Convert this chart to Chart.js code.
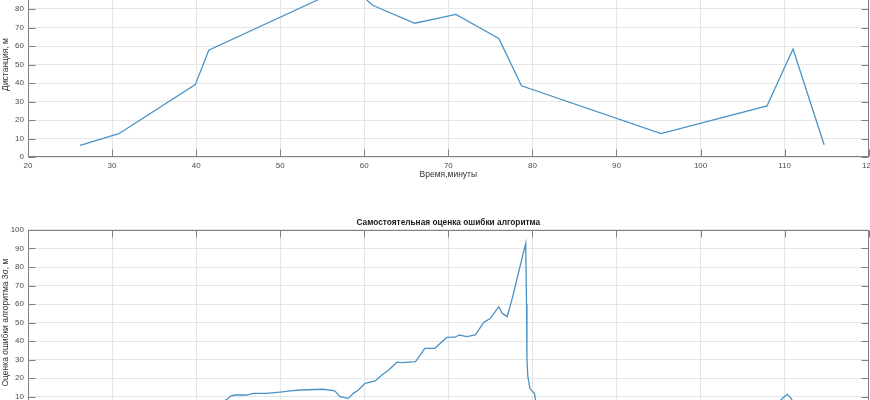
<!DOCTYPE html>
<html><head><meta charset="utf-8">
<script src="https://cdn.jsdelivr.net/npm/chart.js@4"></script>
<style>
html,body{margin:0;padding:0;width:870px;height:400px;overflow:hidden;background:#fff;}
#w1{position:absolute;left:0;top:-40px;width:870px;height:220px;}
#w2{position:absolute;left:0;top:200px;width:870px;height:240px;}
canvas{display:block;}
</style></head><body>
<div id="w1"><canvas id="c1" width="870" height="220"></canvas></div>
<div id="w2"><canvas id="c2" width="870" height="240"></canvas></div>
<script>
// ---- data ----
const xTickValues = [20, 30, 40, 50, 60, 70, 80, 90, 100, 110, 120];
const yTickValues = [0, 10, 20, 30, 40, 50, 60, 70, 80, 90, 100];

const distTimes  = [26.2, 30.8, 39.9, 41.5, 58.3, 61.0, 66.0, 70.9, 76.0, 78.7, 95.3, 107.9, 111.0, 114.7];
const distValues = [6.3, 12.6, 39.1, 57.7, 93.0, 82.0, 72.3, 77.1, 64.1, 38.5, 12.6, 27.6, 58.4, 6.6];

const errTimes  = [26.2, 30.0, 35.0, 40.0, 43.0, 43.7, 44.1, 44.6, 46.0, 46.8, 48.4, 50.0, 51.2, 52.4, 55.1, 56.5, 57.1, 58.1, 58.7, 59.3, 60.1, 61.3, 62.1, 62.9, 63.9, 64.5, 66.1, 67.2, 68.4, 69.8, 70.8, 71.3, 72.2, 73.2, 74.2, 75.0, 76.0, 76.4, 77.0, 77.6, 79.2, 79.3, 79.35, 79.45, 79.7, 80.0, 80.25, 80.4, 81.0, 85.0, 90.0, 95.0, 100.0, 105.0, 109.0, 109.6, 110.3, 110.7, 111.2, 114.7];
const errValues = [2.0, 3.0, 4.0, 5.0, 7.0, 8.6, 10.3, 10.9, 10.9, 11.8, 11.8, 12.5, 13.1, 13.6, 14.0, 13.1, 10.0, 9.1, 11.8, 13.6, 17.2, 18.5, 21.7, 24.4, 28.6, 28.4, 28.9, 36.1, 36.1, 42.0, 42.1, 43.3, 42.4, 43.3, 50.0, 52.3, 58.6, 55.0, 53.2, 63.1, 92.8, 60.0, 30.0, 21.0, 14.5, 12.8, 11.8, 7.0, 5.0, 4.5, 4.0, 4.0, 4.5, 5.0, 6.0, 8.5, 11.3, 9.5, 6.0, 4.0];

const xTitle = 'Время,минуты';
const topYTitle = 'Дистанция, м';
const botYTitle = 'Оценка ошибки алгоритма 3σ, м';
const botTitle = 'Самостоятельная оценка ошибки алгоритма';

// ---- style ----
const FONT = 'Liberation Sans, Arial, Helvetica, sans-serif';
const LINE = '#4a93c6';
const GRID = '#e6e6e6';
const AXIS = '#808080';

const boxPlugin = {
  id: 'box',
  afterDraw(chart) {
    const {ctx, chartArea: a, scales: {x, y}} = chart;
    ctx.save();
    ctx.strokeStyle = AXIS;
    ctx.lineWidth = 1;
    const L = Math.round(a.left) + 0.5, R = Math.round(a.right) - 0.5;
    const T = Math.round(a.top) + 0.5, B = Math.round(a.bottom) - 0.5;
    ctx.strokeRect(L, T, R - L, B - T);
    ctx.beginPath();
    x.ticks.forEach(t => {
      const p = Math.round(x.getPixelForValue(t.value)) + 0.5;
      ctx.moveTo(p, B); ctx.lineTo(p, B - 7);
      ctx.moveTo(p, T); ctx.lineTo(p, T + 7);
    });
    y.ticks.forEach(t => {
      const p = Math.round(y.getPixelForValue(t.value)) + 0.5;
      ctx.moveTo(L, p); ctx.lineTo(L + 7, p);
      ctx.moveTo(R, p); ctx.lineTo(R - 7, p);
    });
    ctx.stroke();
    ctx.restore();
  }
};

function makeChart(id, times, values, yTitle, title, padTop, xH) {
  const data = times.map((t, i) => ({x: t, y: values[i]}));
  return new Chart(document.getElementById(id), {
    type: 'line',
    data: {datasets: [{data, borderColor: LINE, borderWidth: 1.3, pointRadius: 0, tension: 0, fill: false}]},
    options: {
      responsive: false, animation: false,
      layout: {padding: {top: padTop, left: 0, right: 1.3, bottom: 0}},
      plugins: {
        legend: {display: false}, tooltip: {enabled: false},
        title: title ? {display: true, text: title, color: '#1a1a1a', fullSize: false,
          font: {family: FONT, size: 8.3, weight: 'bold', lineHeight: 1.2},
          padding: {top: 18, bottom: 2}} : {display: false}
      },
      scales: {
        x: {
          type: 'linear', min: 20, max: 120,
          afterBuildTicks: s => { s.ticks = xTickValues.map(v => ({value: v})); },
          afterFit: s => { s.height = xH; s.paddingLeft = 0; s.paddingRight = 0; },
          grid: {color: GRID, drawTicks: false},
          border: {display: false},
          ticks: {padding: 4, color: '#4d4d4d', autoSkip: false, maxRotation: 0,
            font: {family: FONT, size: 8}},
          title: {display: true, text: xTitle, color: '#333',
            font: {family: FONT, size: 8.5, lineHeight: 1.2}, padding: {top: 0, bottom: 0}}
        },
        y: {
          type: 'linear', min: 0, max: 100,
          afterBuildTicks: s => { s.ticks = yTickValues.map(v => ({value: v})); },
          afterFit: s => { s.width = 28; s.paddingTop = 0; s.paddingBottom = 0; },
          grid: {color: GRID, drawTicks: false},
          border: {display: false},
          ticks: {padding: 4, color: '#4d4d4d', autoSkip: false,
            font: {family: FONT, size: 8}},
          title: {display: true, text: yTitle, color: '#333',
            font: {family: FONT, size: 8.5, lineHeight: 1.2}, padding: {top: 0.5, bottom: 0}}
        }
      }
    },
    plugins: [boxPlugin]
  });
}

makeChart('c1', distTimes, distValues, topYTitle, null, 12, 23);
makeChart('c2', errTimes, errValues, botYTitle, botTitle, 0, 24.8);
</script>
</body></html>
